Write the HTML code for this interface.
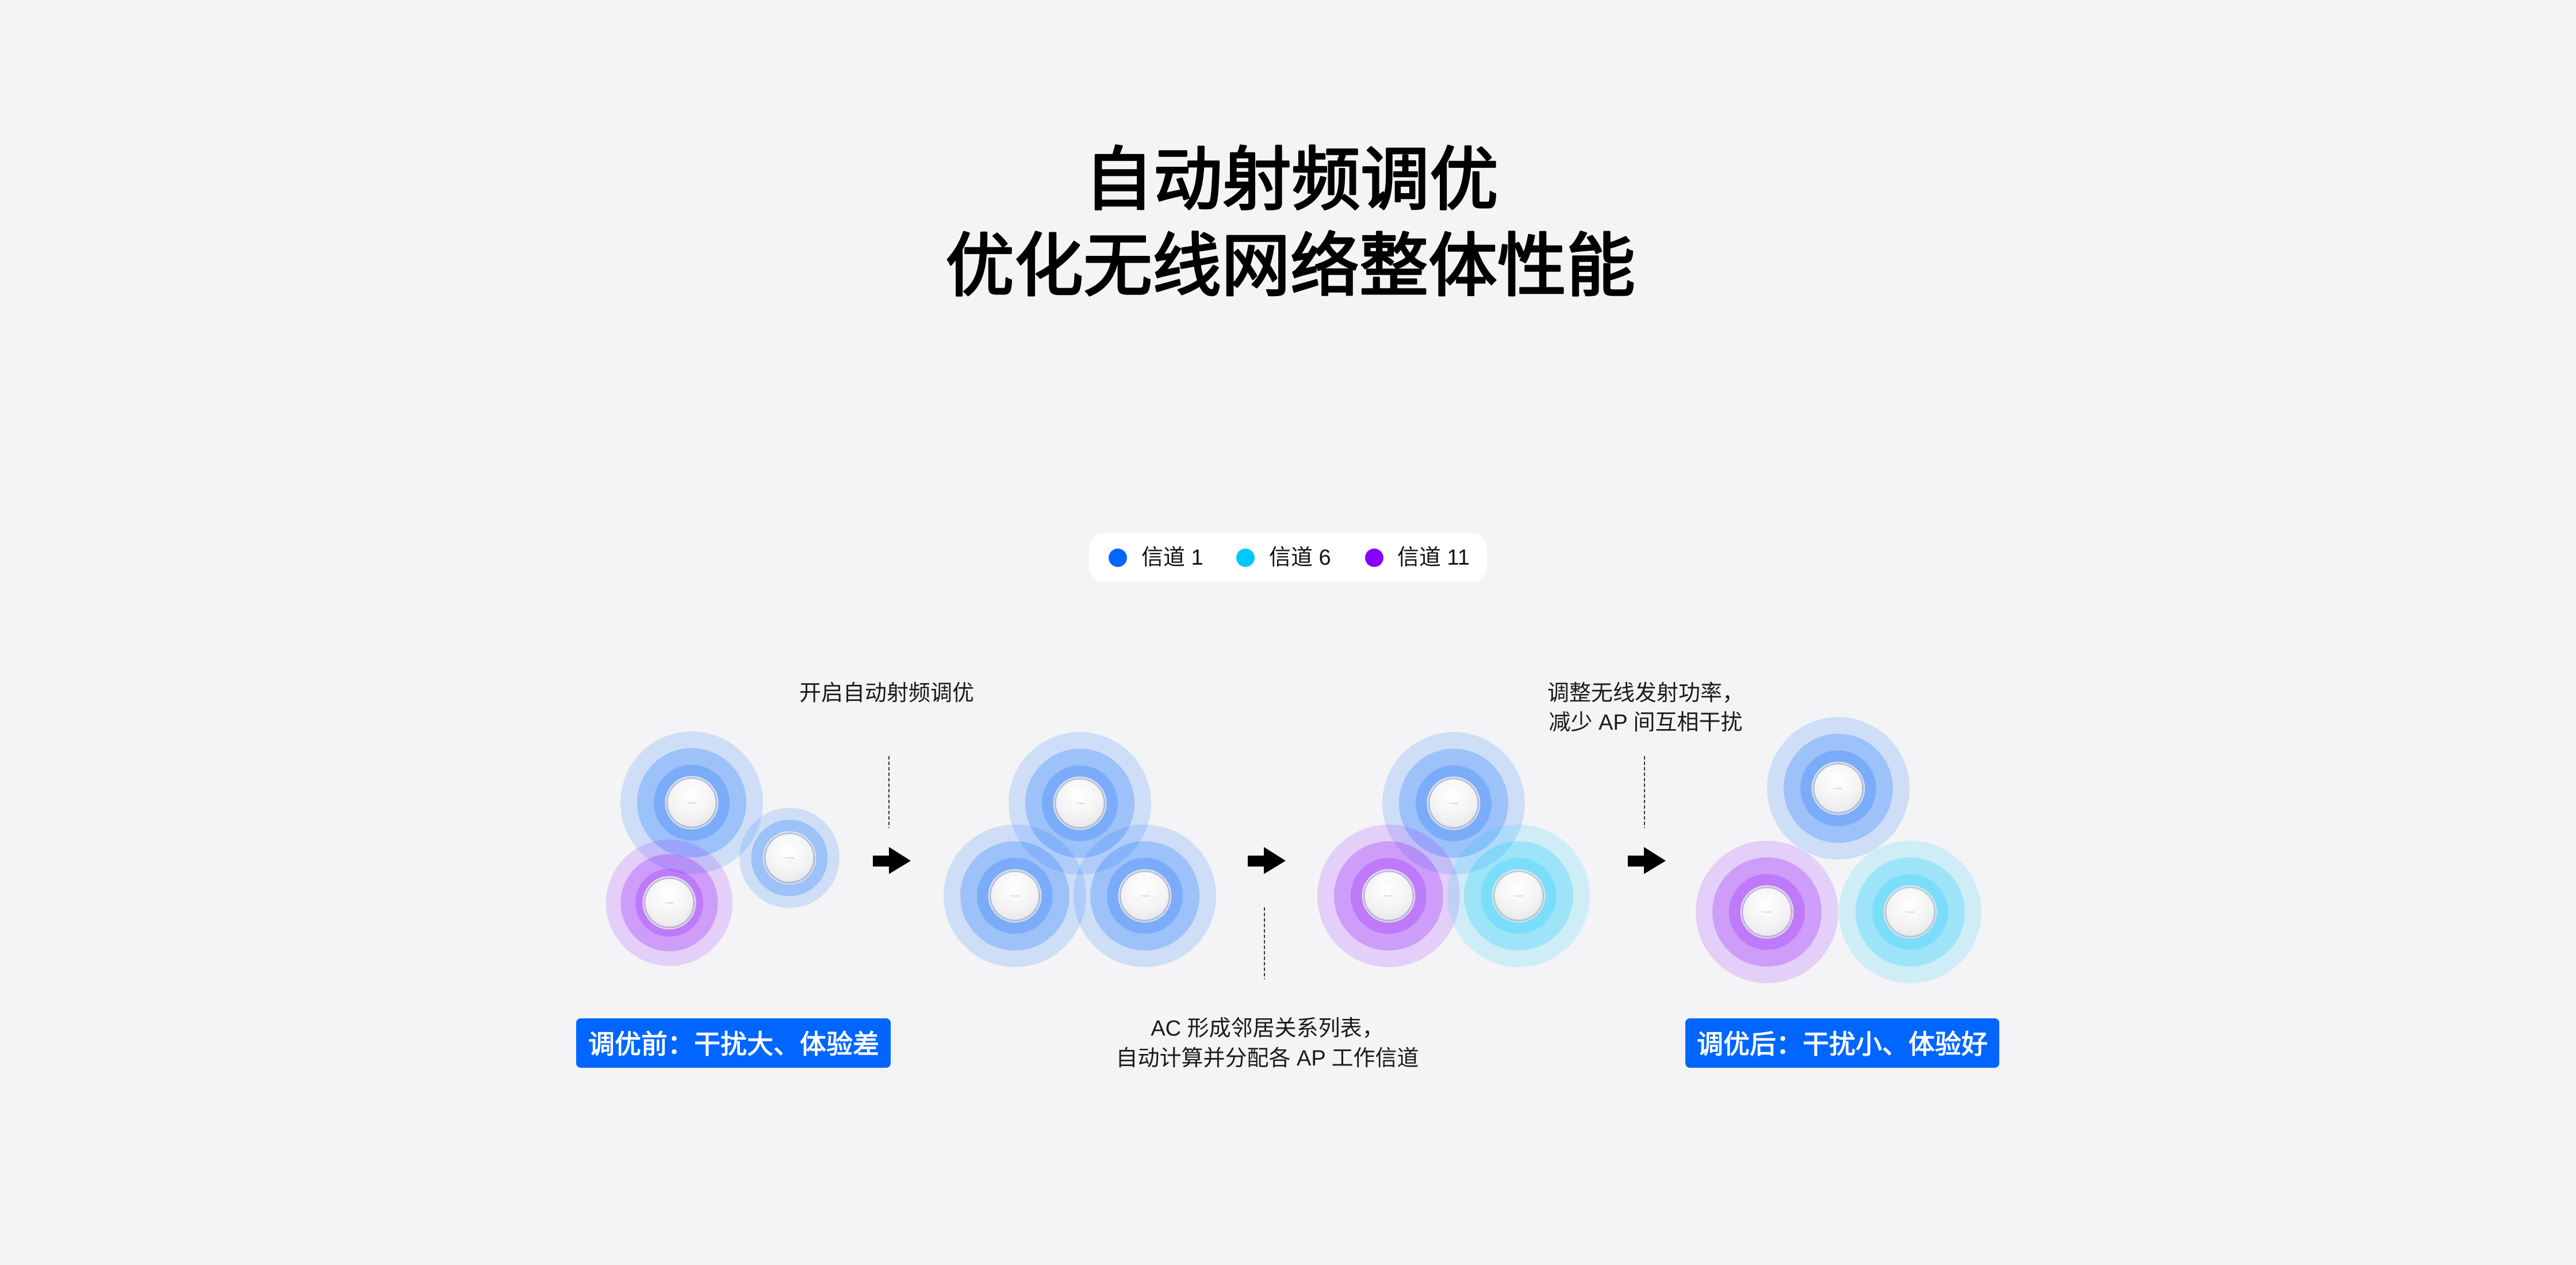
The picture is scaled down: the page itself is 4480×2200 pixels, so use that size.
<!DOCTYPE html>
<html lang="zh">
<head>
<meta charset="utf-8">
<title>自动射频调优</title>
<style>
  html,body{margin:0;padding:0;background:#f4f4f6;}
  body{width:4480px;height:2200px;overflow:hidden;}
  svg{display:block;}
  .t{font-family:"Liberation Sans","Noto Sans CJK SC",sans-serif;}
  .b1{fill:#0066ff;fill-opacity:.15}
  .b2{fill:#0066ff;fill-opacity:.24}
  .b3{fill:#0066ff;fill-opacity:.22}
  .p1{fill:#8800ff;fill-opacity:.15}
  .p2{fill:#8800ff;fill-opacity:.24}
  .p3{fill:#8800ff;fill-opacity:.22}
  .c1{fill:#00c8ff;fill-opacity:.15}
  .c2{fill:#00c8ff;fill-opacity:.24}
  .c3{fill:#00c8ff;fill-opacity:.22}
  .disc{fill:url(#dg);stroke:#d6dae0;stroke-width:1}
  .rb{fill:none;stroke:#6f8fd0;stroke-width:3;stroke-dasharray:1.1 1.1}
  .rp{fill:none;stroke:#9a70d8;stroke-width:3;stroke-dasharray:1.1 1.1}
  .rc{fill:none;stroke:#6aaac8;stroke-width:3;stroke-dasharray:1.1 1.1}
  .logo{font-family:"Liberation Sans",sans-serif;font-size:4px;fill:#a0a0a0;}
  .dash{stroke:#333;stroke-width:2;stroke-dasharray:6 3.5;}
</style>
</head>
<body>
<svg width="4480" height="2200" viewBox="0 0 4480 2200" xmlns="http://www.w3.org/2000/svg">
  <defs>
    <radialGradient id="dg" cx="48%" cy="35%" r="70%">
      <stop offset="0" stop-color="#ffffff"/>
      <stop offset="0.6" stop-color="#f3f3f3"/>
      <stop offset="1" stop-color="#e3e3e3"/>
    </radialGradient>
  </defs>
  <rect width="4480" height="2200" fill="#f4f4f6"/>

  <!-- Title -->
  <g class="t" font-size="120" font-weight="400" fill="#000" stroke="#000" stroke-width="3.5" stroke-linejoin="round" text-anchor="middle">
    <text x="2246" y="354">自动射频调优</text>
    <text x="2244" y="504">优化无线网络整体性能</text>
  </g>

  <!-- Legend -->
  <rect x="1894" y="927" width="692" height="85" rx="26" ry="26" fill="#ffffff"/>
  <circle cx="1944" cy="970" r="16" fill="#0066ff"/>
  <circle cx="2166" cy="970" r="16" fill="#00c8ff"/>
  <circle cx="2390" cy="970" r="16" fill="#8800ff"/>
  <g class="t" font-size="38" fill="#111">
    <text x="1985" y="982">信道 1</text>
    <text x="2207" y="982">信道 6</text>
    <text x="2430" y="982">信道 11</text>
  </g>

  <!-- Annotation texts -->
  <g class="t" font-size="38" fill="#1a1a1a" text-anchor="middle">
    <text x="1542" y="1218">开启自动射频调优</text>
    <text x="2862" y="1218">调整无线发射功率，</text>
    <text x="2862" y="1269">减少 AP 间互相干扰</text>
    <text x="2204" y="1801">AC 形成邻居关系列表，</text>
    <text x="2204" y="1853">自动计算并分配各 AP 工作信道</text>
  </g>

  <!-- Rings: Group 1 -->
  <circle cx="1203" cy="1396" r="124" class="b1"/>
  <circle cx="1203" cy="1396" r="95" class="b2"/>
  <circle cx="1203" cy="1396" r="66" class="b3"/>
  <circle cx="1373" cy="1492" r="87" class="b1"/>
  <circle cx="1373" cy="1492" r="66.5" class="b2"/>
  <circle cx="1164" cy="1570" r="110" class="p1"/>
  <circle cx="1164" cy="1570" r="84.5" class="p2"/>
  <circle cx="1164" cy="1570" r="59" class="p3"/>

  <!-- Rings: Group 2 -->
  <circle cx="1878" cy="1397" r="124" class="b1"/>
  <circle cx="1878" cy="1397" r="95" class="b2"/>
  <circle cx="1878" cy="1397" r="66" class="b3"/>
  <circle cx="1765" cy="1558" r="124" class="b1"/>
  <circle cx="1765" cy="1558" r="95" class="b2"/>
  <circle cx="1765" cy="1558" r="66" class="b3"/>
  <circle cx="1991" cy="1558" r="124" class="b1"/>
  <circle cx="1991" cy="1558" r="95" class="b2"/>
  <circle cx="1991" cy="1558" r="66" class="b3"/>

  <!-- Rings: Group 3 -->
  <circle cx="2528" cy="1397" r="124" class="b1"/>
  <circle cx="2528" cy="1397" r="95" class="b2"/>
  <circle cx="2528" cy="1397" r="66" class="b3"/>
  <circle cx="2415" cy="1558" r="124" class="p1"/>
  <circle cx="2415" cy="1558" r="95" class="p2"/>
  <circle cx="2415" cy="1558" r="66" class="p3"/>
  <circle cx="2641" cy="1558" r="124" class="c1"/>
  <circle cx="2641" cy="1558" r="95" class="c2"/>
  <circle cx="2641" cy="1558" r="66" class="c3"/>

  <!-- Rings: Group 4 -->
  <circle cx="3197" cy="1371" r="124" class="b1"/>
  <circle cx="3197" cy="1371" r="95" class="b2"/>
  <circle cx="3197" cy="1371" r="66" class="b3"/>
  <circle cx="3073" cy="1586" r="124" class="p1"/>
  <circle cx="3073" cy="1586" r="95" class="p2"/>
  <circle cx="3073" cy="1586" r="66" class="p3"/>
  <circle cx="3322" cy="1586" r="124" class="c1"/>
  <circle cx="3322" cy="1586" r="95" class="c2"/>
  <circle cx="3322" cy="1586" r="66" class="c3"/>

  <!-- AP discs -->
  <g>
    <circle cx="1203" cy="1396" r="46" class="disc"/><circle cx="1203" cy="1396" r="43" class="rb"/>
    <text x="1203" y="1397.5" class="logo" text-anchor="middle">TP-LINK</text>
    <circle cx="1373" cy="1492" r="46" class="disc"/><circle cx="1373" cy="1492" r="43" class="rb"/>
    <text x="1373" y="1493.5" class="logo" text-anchor="middle">TP-LINK</text>
    <circle cx="1164" cy="1570" r="46" class="disc"/><circle cx="1164" cy="1570" r="43" class="rp"/>
    <text x="1164" y="1571.5" class="logo" text-anchor="middle">TP-LINK</text>

    <circle cx="1878" cy="1397" r="46" class="disc"/><circle cx="1878" cy="1397" r="43" class="rb"/>
    <text x="1878" y="1398.5" class="logo" text-anchor="middle">TP-LINK</text>
    <circle cx="1765" cy="1558" r="46" class="disc"/><circle cx="1765" cy="1558" r="43" class="rb"/>
    <text x="1765" y="1559.5" class="logo" text-anchor="middle">TP-LINK</text>
    <circle cx="1991" cy="1558" r="46" class="disc"/><circle cx="1991" cy="1558" r="43" class="rb"/>
    <text x="1991" y="1559.5" class="logo" text-anchor="middle">TP-LINK</text>

    <circle cx="2528" cy="1397" r="46" class="disc"/><circle cx="2528" cy="1397" r="43" class="rb"/>
    <text x="2528" y="1398.5" class="logo" text-anchor="middle">TP-LINK</text>
    <circle cx="2415" cy="1558" r="46" class="disc"/><circle cx="2415" cy="1558" r="43" class="rp"/>
    <text x="2415" y="1559.5" class="logo" text-anchor="middle">TP-LINK</text>
    <circle cx="2641" cy="1558" r="46" class="disc"/><circle cx="2641" cy="1558" r="43" class="rc"/>
    <text x="2641" y="1559.5" class="logo" text-anchor="middle">TP-LINK</text>

    <circle cx="3197" cy="1371" r="46" class="disc"/><circle cx="3197" cy="1371" r="43" class="rb"/>
    <text x="3197" y="1372.5" class="logo" text-anchor="middle">TP-LINK</text>
    <circle cx="3073" cy="1586" r="46" class="disc"/><circle cx="3073" cy="1586" r="43" class="rp"/>
    <text x="3073" y="1587.5" class="logo" text-anchor="middle">TP-LINK</text>
    <circle cx="3322" cy="1586" r="46" class="disc"/><circle cx="3322" cy="1586" r="43" class="rc"/>
    <text x="3322" y="1587.5" class="logo" text-anchor="middle">TP-LINK</text>
  </g>

  <!-- Dashed connectors -->
  <line x1="1546" y1="1315" x2="1546" y2="1440" class="dash"/>
  <line x1="2199" y1="1578" x2="2199" y2="1703" class="dash"/>
  <line x1="2860" y1="1315" x2="2860" y2="1440" class="dash"/>

  <!-- Arrows -->
  <polygon points="1518,1488 1546,1488 1546,1473 1584,1497 1546,1520 1546,1507 1518,1507" fill="#000"/>
  <polygon points="2170,1488 2198,1488 2198,1473 2236,1497 2198,1520 2198,1507 2170,1507" fill="#000"/>
  <polygon points="2831,1488 2859,1488 2859,1473 2897,1497 2859,1520 2859,1507 2831,1507" fill="#000"/>

  <!-- Bottom labels -->
  <rect x="1002" y="1771" width="547" height="86" rx="8" ry="8" fill="#0066ff"/>
  <rect x="2931" y="1771" width="546" height="86" rx="8" ry="8" fill="#0066ff"/>
  <g class="t" font-size="46" fill="#ffffff" stroke="#ffffff" stroke-width="1.2" stroke-linejoin="round" text-anchor="middle">
    <text x="1276" y="1832">调优前：干扰大、体验差</text>
    <text x="3204" y="1832">调优后：干扰小、体验好</text>
  </g>
</svg>
</body>
</html>
